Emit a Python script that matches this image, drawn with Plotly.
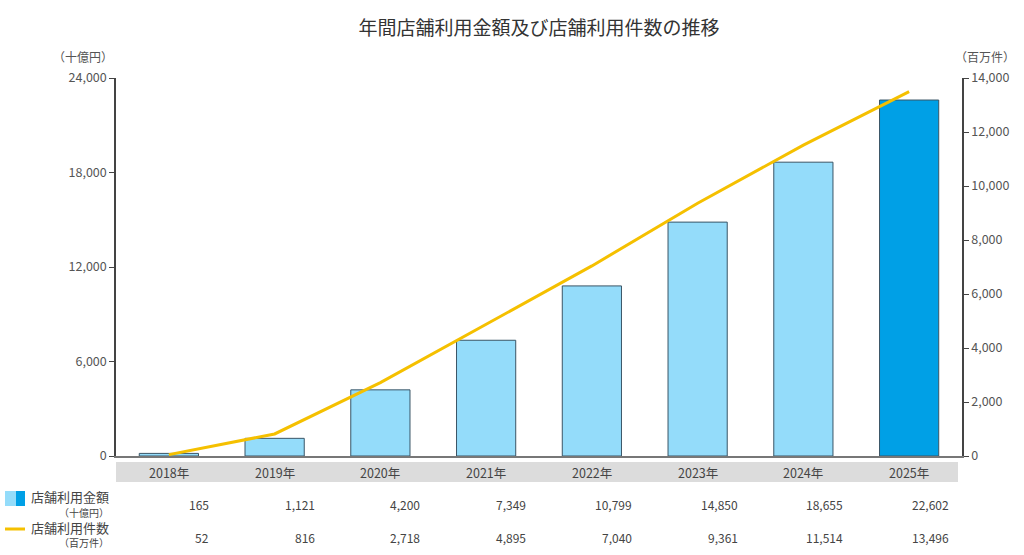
import plotly.graph_objects as go

years = ["2018年", "2019年", "2020年", "2021年", "2022年", "2023年", "2024年", "2025年"]
amount = [165, 1121, 4200, 7349, 10799, 14850, 18655, 22602]   # 十億円
count = [52, 816, 2718, 4895, 7040, 9361, 11514, 13496]        # 百万件
left_ticks = [0, 6000, 12000, 18000, 24000]
right_ticks = [0, 2000, 4000, 6000, 8000, 10000, 12000, 14000]

FONT = "Noto Sans CJK JP"
LIGHT = "#94DCFA"
DARK = "#00A0E6"
GOLD = "#F5C000"

W, H = 1024, 555
L, R, T, B = 116, 62, 78, 99
PW, PH = W - L - R, H - T - B

def px(x):
    return (x - L) / PW

def py(y):
    return (H - B - y) / PH

bar_colors = [LIGHT] * (len(years) - 1) + [DARK]

fig = go.Figure()
fig.add_trace(go.Bar(x=years, y=amount, marker=dict(color=bar_colors, line=dict(color="#3a5566", width=1)),
                     width=0.56, yaxis="y", showlegend=False, hoverinfo="skip"))
fig.add_trace(go.Scatter(x=years, y=count, mode="lines", line=dict(color=GOLD, width=3),
                         yaxis="y2", showlegend=False, hoverinfo="skip"))

shapes = []
annotations = []

# gray band for year labels
shapes.append(dict(type="rect", xref="paper", yref="paper", x0=0, x1=px(958), y0=py(482), y1=py(462),
                   fillcolor="#DCDCDC", line=dict(width=0), layer="below"))
for yr in years:
    annotations.append(dict(x=yr, xref="x", y=py(472), yref="paper", text=yr, showarrow=False,
                            font=dict(size=12.5, color="#444", family=FONT), xanchor="center", yanchor="middle"))

# values rows
for yr, a, c in zip(years, amount, count):
    annotations.append(dict(x=yr, xref="x", xshift=42, y=py(505), yref="paper", text=f"{a:,}", showarrow=False,
                            font=dict(size=12, color="#444", family=FONT), xanchor="right", yanchor="middle"))
    annotations.append(dict(x=yr, xref="x", xshift=42, y=py(537), yref="paper", text=f"{c:,}", showarrow=False,
                            font=dict(size=12, color="#444", family=FONT), xanchor="right", yanchor="middle"))

# legend icons
shapes.append(dict(type="rect", xref="paper", yref="paper", x0=px(5), x1=px(16), y0=py(506), y1=py(491),
                   fillcolor=LIGHT, line=dict(width=0)))
shapes.append(dict(type="rect", xref="paper", yref="paper", x0=px(16), x1=px(25), y0=py(506), y1=py(491),
                   fillcolor=DARK, line=dict(width=0)))
shapes.append(dict(type="line", xref="paper", yref="paper", x0=px(5), x1=px(25), y0=py(529), y1=py(529),
                   line=dict(color=GOLD, width=3)))

legend_txt = [("店舗利用金額", 497, 13), ("（十億円）", 512, 10), ("店舗利用件数", 527, 13), ("（百万件）", 542, 10)]
for t, yy, fs in legend_txt:
    annotations.append(dict(x=px(111), xref="paper", y=py(yy), yref="paper", text=t, showarrow=False,
                            font=dict(size=fs, color="#444", family=FONT), xanchor="right", yanchor="middle"))

# unit labels
annotations.append(dict(x=px(83), xref="paper", y=py(57), yref="paper", text="（十億円）", showarrow=False,
                        font=dict(size=12, color="#555", family=FONT), xanchor="center", yanchor="middle"))
annotations.append(dict(x=px(985), xref="paper", y=py(56), yref="paper", text="（百万件）", showarrow=False,
                        font=dict(size=12, color="#555", family=FONT), xanchor="center", yanchor="middle"))

fig.update_layout(
    width=W, height=H,
    margin=dict(l=L, r=R, t=T, b=B, autoexpand=False),
    paper_bgcolor="white", plot_bgcolor="white",
    title=dict(text="年間店舗利用金額及び店舗利用件数の推移", x=0.5, xref="paper", xanchor="center",
               y=1 - 28 / H, yref="container", yanchor="middle",
               font=dict(size=19, color="#333", family=FONT)),
    font=dict(family=FONT, color="#555"),
    bargap=0.44,
    xaxis=dict(type="category", showticklabels=False, showline=True, linecolor="#777", linewidth=2,
               showgrid=False, zeroline=False, ticks=""),
    yaxis=dict(range=[0, 24000], tickvals=left_ticks, ticktext=[f"{v:,}" for v in left_ticks],
               showline=True, linecolor="#444", linewidth=1.5, ticks="outside", ticklen=5, tickcolor="#444",
               showgrid=False, zeroline=False, tickfont=dict(size=12.5, color="#555", family=FONT)),
    yaxis2=dict(range=[0, 14000], tickvals=right_ticks, ticktext=[f"{v:,}" for v in right_ticks],
                overlaying="y", side="right", showline=True, linecolor="#444", linewidth=1.5,
                ticks="outside", ticklen=5, tickcolor="#444", showgrid=False, zeroline=False,
                tickfont=dict(size=12.5, color="#555", family=FONT)),
    shapes=shapes,
    annotations=annotations,
)

fig.write_html("out.html", config={"displayModeBar": False},
               post_script="document.body.style.margin='0';document.body.style.overflow='hidden';")
